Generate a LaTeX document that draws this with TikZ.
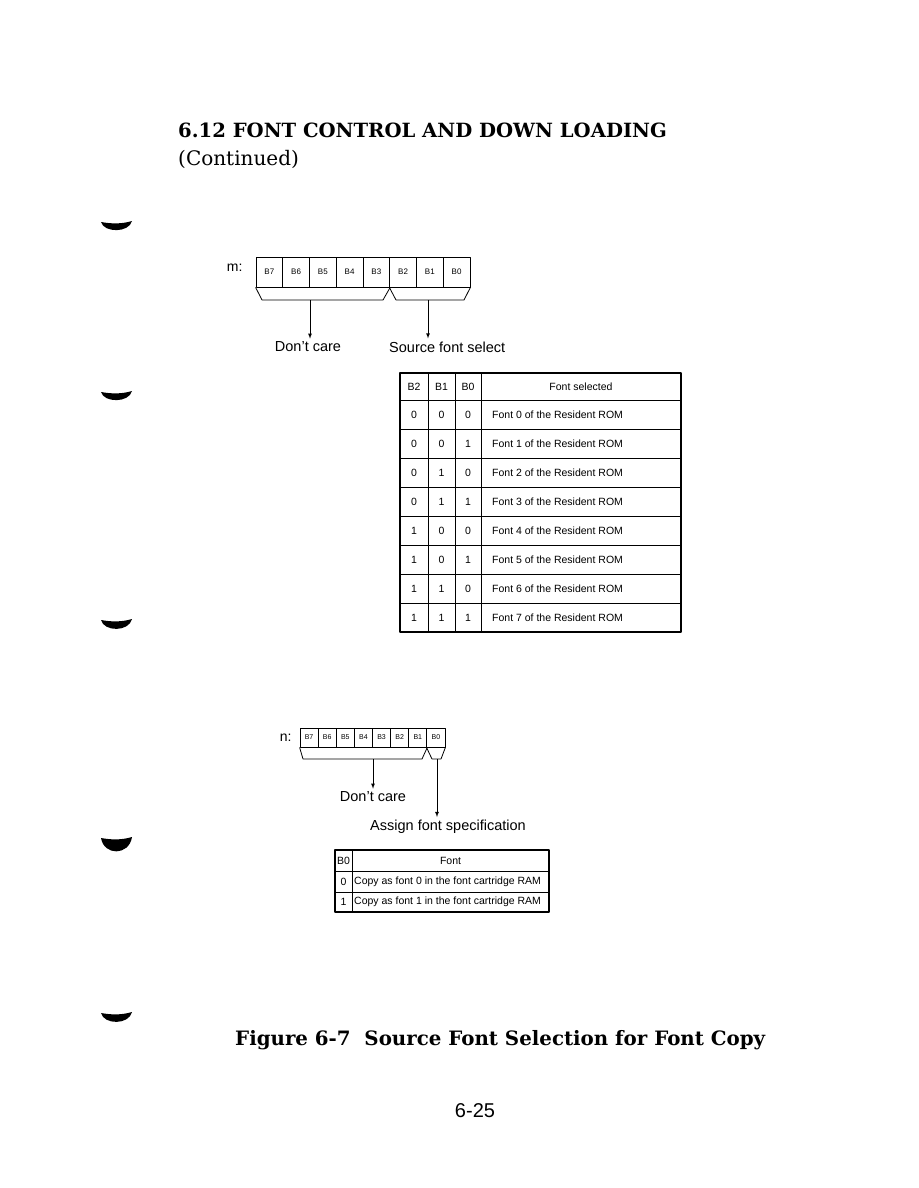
\documentclass[tikz,border=0pt]{standalone}
\usepackage{fontspec}
\setmainfont{DejaVu Serif}
\setsansfont{Liberation Sans}
\usetikzlibrary{arrows,positioning}
\newcommand{\pxfont}[1]{\fontsize{#1}{#1}\selectfont}
\tikzset{
  mcell/.style={draw,thick,minimum width=26.75pt,minimum height=30pt,inner sep=0pt,font=\sffamily\pxfont{8}},
  ncell/.style={draw,thick,minimum width=18.125pt,minimum height=19pt,inner sep=0pt,font=\sffamily\pxfont{7}},
  celltext/.style={inner sep=0pt,font=\sffamily\pxfont{10.5}},
  caretext/.style={inner sep=3pt,font=\sffamily\pxfont{14.5}},
}
\begin{document}
\begin{tikzpicture}[x=1pt,y=-1pt,line join=round]
\useasboundingbox (0,0) rectangle (918,1188);
% heading
\node (title) [anchor=base west,inner sep=0pt,font=\bfseries\pxfont{19.6}] at (178,137) {6.12 FONT CONTROL AND DOWN LOADING};
\node (cont) [anchor=base west,inner sep=0pt,font=\pxfont{20}] at (178,165) {(Continued)};
% binder holes of the scan
\foreach \yy/\hh in {222/11,392/11,620/12,838/18,1013/12}
  \fill ({101},{\yy}) .. controls ({112},{\yy+2}) and ({122},{\yy+2}) .. ({132},{\yy-1}) .. controls ({129},{\yy+\hh}) and ({104},{\yy+\hh}) .. cycle;
%
% register m
\node (mname) [anchor=east,font=\sffamily\pxfont{14}] at (246,268) {m:};
\foreach \b [count=\k from 0] in {7,6,...,0}
  \node (m\b) [mcell] at ({269.375+26.75*\k},272) {B\b};
\draw[thick] (m7.south west) -- (262,300) -- (383,300) -- (m3.south east);
\draw[thick] (m2.south west) -- (396,300) -- (464,300) -- (m0.south east);
\coordinate (mlow) at (310,300);
\coordinate (mhigh) at (428,300);
\node (mdont) [caretext] at (308,347) {Don't care};
\node (msrc) [caretext,anchor=west] at (386,347) {Source font select};
\draw[thick,-latex] (mlow) -- (mlow |- mdont.north);
\draw[thick,-latex] (mhigh) -- (mhigh |- msrc.north);
%
% font table
\draw[line width=1.4pt] (400,373) rectangle (681,632);
\foreach \xx in {428,455,481} \draw[thick] (\xx,373) -- (\xx,632);
\foreach \k in {0,...,7} \draw[thick] (400,{400+29*\k}) -- (681,{400+29*\k});
\node (tB2) [celltext] at (414,387) {B2};
\node (tB1) [celltext] at (441.5,387) {B1};
\node (tB0) [celltext] at (468,387) {B0};
\node (tfont) [celltext] at (581,387) {Font selected};
\foreach \i/\ba/\bb/\bc in {0/0/0/0,1/0/0/1,2/0/1/0,3/0/1/1,4/1/0/0,5/1/0/1,6/1/1/0,7/1/1/1}{
  \node (b2r\i) [celltext] at (414,{414.5+29*\i}) {\ba};
  \node (b1r\i) [celltext] at (441.5,{414.5+29*\i}) {\bb};
  \node (b0r\i) [celltext] at (468,{414.5+29*\i}) {\bc};
  \node (fr\i) [celltext,anchor=west] at (492,{414.5+29*\i}) {Font \i\ of the Resident ROM};
}
%
% register n
\node (nname) [anchor=east,font=\sffamily\pxfont{14}] at (295,738) {n:};
\foreach \b [count=\k from 0] in {7,6,...,0}
  \node (n\b) [ncell] at ({309.06+18.125*\k},737.5) {B\b};
\draw[thick] (n7.south west) -- (303,759) -- (422,759) -- (n1.south east);
\draw[thick] (n0.south west) -- (432,759) -- (441,759) -- (n0.south east);
\coordinate (nlow) at (373,759);
\coordinate (nhigh) at (437,759);
\node (ndont) [caretext] at (373,797) {Don't care};
\node (nassign) [caretext] at (448,827) {Assign font specification};
\draw[thick,-latex] (nlow) -- (nlow |- ndont.north);
\draw[thick,-latex] (nhigh) -- (nhigh |- nassign.north);
%
% assign table
\draw[line width=1.4pt] (335,850) rectangle (549,912);
\draw[thick] (352,850) -- (352,912);
\draw[thick] (335,871) -- (549,871);
\draw[thick] (335,892) -- (549,892);
\node (sB0) [celltext] at (343.5,860.5) {B0};
\node (sfont) [celltext] at (450.5,860.5) {Font};
\foreach \i in {0,1}{
  \node (sbit\i) [celltext] at (343.5,{881.5+20*\i}) {\i};
  \node (scopy\i) [celltext,anchor=west] at (354,{881.5+20*\i}) {Copy as font \i\ in the font cartridge RAM};
}
%
% caption and page number
\node (caption) [anchor=base west,inner sep=0pt,font=\bfseries\pxfont{19.8}] at (235,1045) {Figure 6-7\ \ Source Font Selection for Font Copy};
\node (pageno) [inner sep=0pt,font=\sffamily\pxfont{20}] at (475,1111) {6-25};
\end{tikzpicture}
\end{document}
